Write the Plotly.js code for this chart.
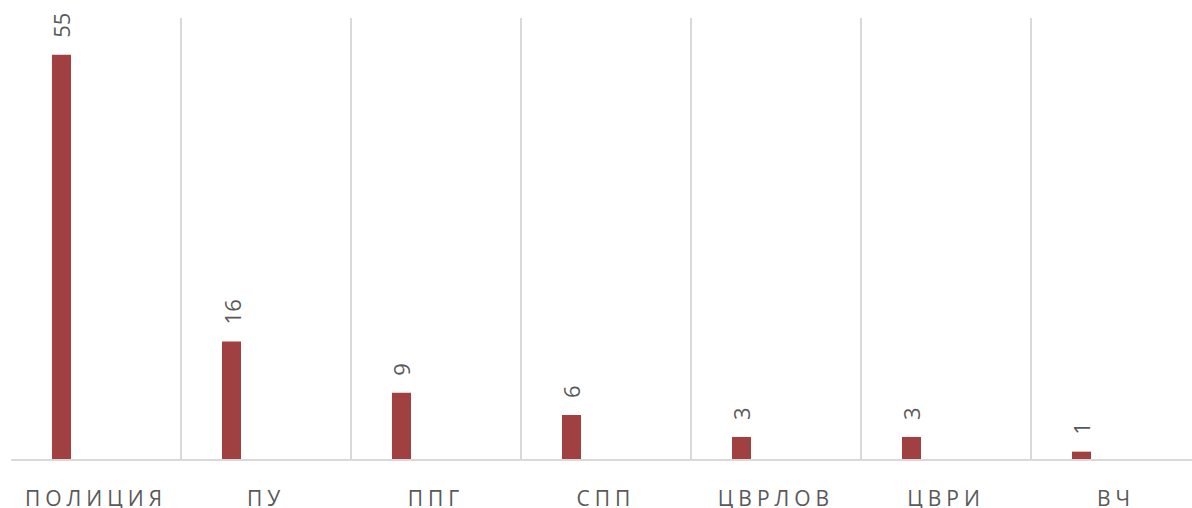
<!DOCTYPE html>
<html><head><meta charset="utf-8">
<script src="https://cdn.plot.ly/plotly-3.0.1.min.js"></script>
<style>
html,body{margin:0;padding:0;background:#fff;}
#chart{width:1192px;height:508px;}
.xtick text{letter-spacing:5px;}
</style>
</head><body><div id="chart"></div>
<script>
const categories = ["ПОЛИЦИЯ","ПУ","ППГ","СПП","ЦВРЛОВ","ЦВРИ","ВЧ"];
const values = [55,16,9,6,3,3,1];
const labels = ["55","16","9","6","3","3","1"];

const barWidth = 0.112, barOffset = -0.259, catPx = 170;
const trace = {
  type:"bar", x:categories, y:values,
  marker:{color:"#A04040"},
  width:barWidth, offset:barOffset, hoverinfo:"none"
};
const annotations = categories.map((c,i)=>({
  x:c, y:values[i], xref:"x", yref:"y", text:labels[i], showarrow:false,
  textangle:-90, yanchor:"bottom", xanchor:"center",
  xshift:(barOffset+barWidth/2)*catPx, yshift:15,
  font:{family:"Open Sans, sans-serif", size:22, color:"#595959"}
}));
const layout = {
  width:1192, height:508,
  margin:{l:11, r:0, t:18, b:49},
  paper_bgcolor:"#fff", plot_bgcolor:"#fff",
  showlegend:false, annotations:annotations,
  xaxis:{type:"category", range:[-0.5, 6.447], tickson:"boundaries",
    showgrid:true, gridcolor:"#d9d9d9", gridwidth:1.5,
    showline:true, linecolor:"#d9d9d9", linewidth:1.5,
    ticks:"", ticklabelstandoff:20,
    tickfont:{family:"Open Sans, sans-serif", size:21, color:"#595959"}},
  yaxis:{range:[0,60], showgrid:false, showticklabels:false, zeroline:false, showline:false}
};
Plotly.newPlot("chart",[trace],layout,{staticPlot:true});
</script></body></html>
